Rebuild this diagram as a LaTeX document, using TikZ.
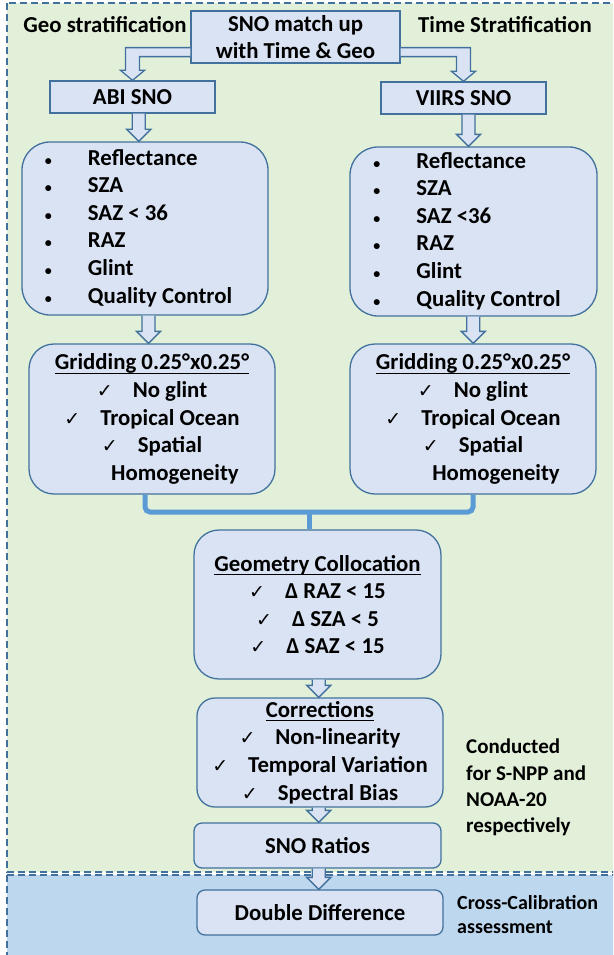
\documentclass[tikz,border=0pt]{standalone}
\usepackage{fontspec}
\setmainfont{Carlito}
\newfontfamily\tickfont{DejaVu Sans}
\usetikzlibrary{calc}
\definecolor{leaf}{HTML}{E2F0D9}
\definecolor{pool}{HTML}{BDD7EE}
\definecolor{steel}{HTML}{41719C}
\definecolor{mist}{HTML}{DAE3F3}
\definecolor{wire}{HTML}{5B9BD5}
\newcommand{\snotick}{{\tickfont\mdseries\fontsize{19}{19}\selectfont ✓}\hspace{20pt}}
\newcommand{\snodot}{{\fontsize{14}{14}\selectfont •}}
\newcommand{\snoul}[1]{\setbox0\hbox{#1}\rlap{\rule[-4pt]{\wd0}{1.3pt}}\box0}
\newcommand{\snolist}[1]{%
  \begin{tabular}{@{}l@{\hspace{36pt}}l@{}}
    \snodot&Reflectance\\ \snodot&SZA\\ \snodot&#1\\ \snodot&RAZ\\ \snodot&Glint\\ \snodot&Quality Control
  \end{tabular}\hspace{13pt}}
\newcommand{\snogrid}{%
  \snoul{Gridding 0.25°x0.25°}\\ \snotick No glint\\ \snotick Tropical Ocean\\
  \snotick Spatial\\ \hspace*{46pt}Homogeneity}
\newcommand{\snoarrow}[2]{%
  \path[hollow] let \p1=(#1.south), \p2=(#2.north), \p3=($(\p1)!.5!(\p2)$) in
    (\x3-6.5pt,\y1) -- (\x3-6.5pt,\y2+12pt) -- (\x3-12pt,\y2+12pt) -- (\x3,\y2)
    -- (\x3+12pt,\y2+12pt) -- (\x3+6.5pt,\y2+12pt) -- (\x3+6.5pt,\y1);
}
\newcommand{\snoelbow}[3]{%
  \path[hollow] let \p1=(#1), \p2=(#2.north), \n1={(#3)*7pt}, \n2={(#3)*12pt} in
    (\x1,\y1) -- (\x2+\n1,\y1) -- (\x2+\n1,\y2+10pt) -- (\x2+\n2,\y2+10pt)
    -- (\x2,\y2) -- (\x2-\n2,\y2+10pt) -- (\x2-\n1,\y2+10pt)
    -- (\x2-\n1,\y1-9pt) -- (\x1,\y1-9pt);
}

\begin{document}
\begin{tikzpicture}[x=1pt,y=-1pt,
  txt/.style={font=\fontsize{22.8}{27.6}\selectfont\bfseries,inner sep=0pt},
  plainbox/.style={txt,draw=steel,line width=1.3pt,fill=mist,align=center},
  softbox/.style={plainbox,rounded corners=#1},
  hollow/.style={draw=steel,line width=1.3pt,fill=mist,line join=miter},
  bus/.style={draw=wire,line width=5pt,rounded corners=5pt},
  zone/.style={draw=steel,line width=1.3pt,dash pattern=on 7pt off 4pt}]
  \useasboundingbox (0,0) rectangle (613,955);
  \clip (0,0) rectangle (613,955);
  \draw[zone,fill=leaf] (7,3) rectangle (622,872);
  \draw[zone,fill=pool] (7,875) rectangle (622,962);

  \node[txt] (geolbl) at (105,25) {Geo stratification};
  \node[txt] (timelbl) at (505,25) {Time Stratification};
  \node[plainbox,minimum width=209pt,minimum height=52pt] (match) at (295.5,37) {SNO match up\\with Time \& Geo};
  \node[plainbox,minimum width=165pt,minimum height=32pt] (abi) at (132.5,97) {ABI SNO};
  \node[plainbox,minimum width=165pt,minimum height=32pt] (viirs) at (463.5,98) {VIIRS SNO};
  \node[softbox=28pt,minimum width=246pt,minimum height=173pt] (listA) at (145,228.5) {\snolist{SAZ < 36}};
  \node[softbox=28pt,minimum width=247pt,minimum height=169pt] (listB) at (473.5,231.5) {\snolist{SAZ <36}};
  \node[softbox=25pt,minimum width=246pt,minimum height=150pt] (gridA) at (152,419) {\snogrid};
  \node[softbox=25pt,minimum width=246pt,minimum height=150pt] (gridB) at (473,419) {\snogrid};
  \node[softbox=25pt,minimum width=247pt,minimum height=149pt] (geo) at (317.5,604.5)
    {\snoul{Geometry Collocation}\\ \snotick Δ RAZ < 15\\ \snotick Δ SZA < 5\\ \snotick Δ SAZ < 15};
  \node[softbox=18pt,minimum width=246pt,minimum height=109pt] (corr) at (320,752.5)
    {\snoul{Corrections}\\ \snotick Non-linearity\\ \snotick Temporal Variation\\ \snotick Spectral Bias};
  \node[softbox=8pt,minimum width=247pt,minimum height=45pt] (ratio) at (317.5,845.5) {SNO Ratios};
  \node[softbox=8pt,minimum width=246pt,minimum height=45pt] (dd) at (320,912.5) {Double Difference};
  \node[txt,align=left,anchor=west,font=\fontsize{21}{26.3}\selectfont\bfseries] (note) at (466,787.5)
    {Conducted\\for S-NPP and\\NOAA-20\\respectively};
  \node[txt,align=left,anchor=west,font=\fontsize{20}{24}\selectfont\bfseries] (assess) at (457,915)
    {Cross-Calibration\\assessment};

  \snoelbow{$(match.south west)+(0,-16)$}{abi}{-1}
  \snoelbow{$(match.south east)+(0,-16)$}{viirs}{1}
  \snoarrow{abi}{listA}
  \snoarrow{viirs}{listB}
  \snoarrow{listA}{gridA}
  \snoarrow{listB}{gridB}
  \snoarrow{geo}{corr}
  \snoarrow{corr}{ratio}
  \snoarrow{ratio}{dd}

  \coordinate (hub) at (309,512);
  \draw[bus] ($(gridA.south)+(-7,0)$) |- (hub) -| (gridB.south);
  \draw[bus] (hub) -- (hub |- geo.north);
\end{tikzpicture}
\end{document}
